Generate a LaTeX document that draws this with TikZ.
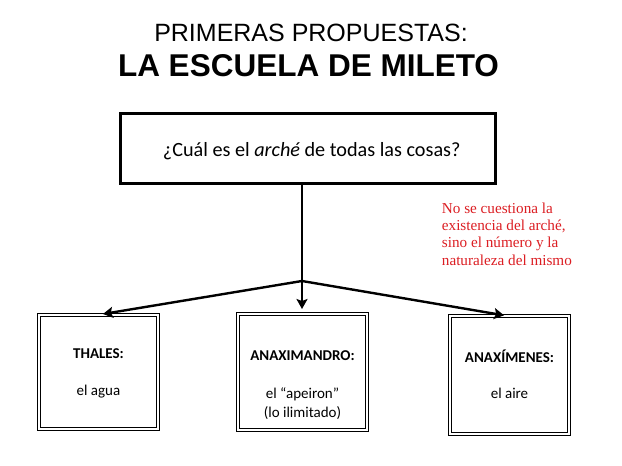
\documentclass[tikz,border=0pt]{standalone}
\usepackage{fontspec}
\setmainfont{Carlito}
\newfontfamily\titlefont{Liberation Sans}
\newfontfamily\notefont{Liberation Serif}
\usetikzlibrary{arrows.meta}
\definecolor{notered}{RGB}{220,30,35}
\begin{document}
\begin{tikzpicture}[x=1pt,y=-1pt,
  dbox/.style={draw=black, line width=1.3pt, double=white, double distance=1.4pt,
    inner sep=0pt, outer sep=0pt},
  qbox/.style={draw=black, line width=3pt, inner sep=0pt, outer sep=0pt},
  conn/.style={line width=2.4pt, -{Stealth[length=10pt,width=11pt,inset=2pt]}},
  headtxt/.style={font=\fontsize{15}{18}\selectfont\bfseries, anchor=base, inner sep=0pt},
  bodytxt/.style={font=\fontsize{15}{18}\selectfont, anchor=base, inner sep=0pt}]
\useasboundingbox[fill=white] (0,0) rectangle (622,466);
% title
\node[font=\titlefont\fontsize{25}{30}\selectfont, anchor=base, inner sep=0pt] (t1) at (311,41.7) {PRIMERAS PROPUESTAS:};
\node[font=\titlefont\fontsize{31.5}{36}\selectfont\bfseries, anchor=base, inner sep=0pt] (t2) at (308.5,76.7) {LA ESCUELA DE MILETO};
% question box
\node[qbox, minimum width=374.5pt, minimum height=70.3pt] (q) at (308,148.4) {};
\node[font=\fontsize{20.2}{24}\selectfont, anchor=base, inner sep=0pt] (qt) at (311.7,156.7) {¿Cuál es el \textit{arché} de todas las cosas?};
% note
\node[font=\notefont\fontsize{15.2}{17.3}\selectfont, text=notered, align=left, anchor=north west, inner sep=0pt] (note) at (441.7,202.5) {No se cuestiona la\\existencia del arché,\\sino el número y la\\naturaleza del mismo};
% boxes
\node[dbox, minimum width=119pt, minimum height=114pt] (b1) at (98.5,372) {};
\node[dbox, minimum width=129pt, minimum height=116pt] (b2) at (302.5,372) {};
\node[dbox, minimum width=119pt, minimum height=118pt] (b3) at (509.5,375) {};
\node[headtxt] (h1) at (98.5,358) {THALES:};
\node[bodytxt] (s1) at (98.5,395) {el agua};
\node[headtxt] (h2) at (302.5,360) {ANAXIMANDRO:};
\node[bodytxt] (s2) at (302.5,398) {el “apeiron”};
\node[bodytxt] (s2b) at (302.5,417) {(lo ilimitado)};
\node[headtxt] (h3) at (509.5,362) {ANAXÍMENES:};
\node[bodytxt] (s3) at (509.5,398) {el aire};
% connectors
\coordinate (j) at (302,281);
\draw[line width=2.4pt] (q.south -| j) -- (j);
\draw[conn, shorten >=5pt] (j) -- (b2.north -| j);
\draw[conn, shorten >=6pt] (j) -- ([xshift=-1.5pt]b1.north);
\draw[conn, shorten >=4pt] (j) -- ([xshift=-1.5pt]b3.north);
\end{tikzpicture}
\end{document}
